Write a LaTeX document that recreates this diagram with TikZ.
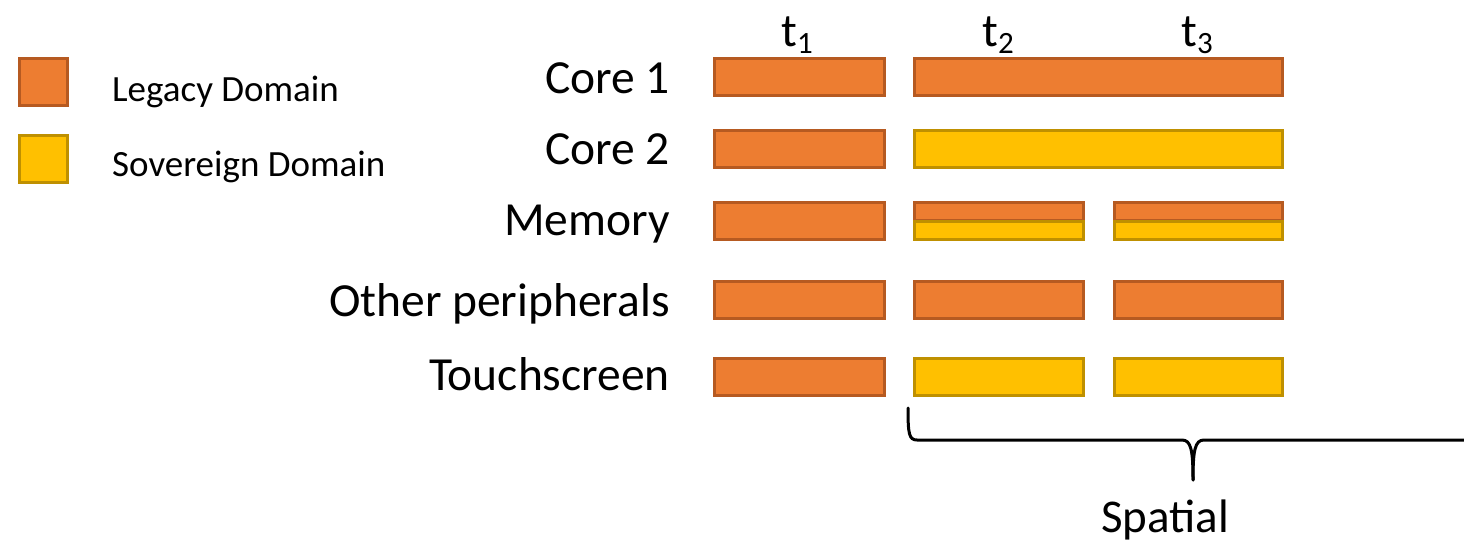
\documentclass[tikz,border=0pt]{standalone}
\usepackage{fontspec}
\setmainfont{Carlito}
\definecolor{legacyfill}{HTML}{ED7D31}
\definecolor{legacyline}{HTML}{B65A21}
\definecolor{sovfill}{HTML}{FFC000}
\definecolor{sovline}{HTML}{BF9000}
\newcommand{\tsub}[1]{t\raisebox{-7pt}{\fontsize{31}{31}\selectfont #1}}
\tikzset{
  legacybox/.style={draw=legacyline, fill=legacyfill, line width=2.5pt, inner sep=0pt, anchor=north west},
  sovbox/.style={draw=sovline, fill=sovfill, line width=2.5pt, inner sep=0pt, anchor=north west},
  rowlabel/.style={font=\fontsize{47.5}{50}\selectfont, anchor=base east, inner sep=0pt},
  legendtext/.style={font=\fontsize{37}{40}\selectfont, anchor=base west, inner sep=0pt},
  timelabel/.style={font=\fontsize{47}{50}\selectfont, anchor=base, inner sep=0pt},
  brace/.style={draw=black, line width=3pt, line cap=round, line join=round}
}
\begin{document}
\begin{tikzpicture}[x=1pt, y=-1pt]
\useasboundingbox (0,0) rectangle (1464,544);

% legend
\node[legacybox, minimum width=48pt, minimum height=47pt] (keylegacy) at (18,57) {};
\node[sovbox, minimum width=48pt, minimum height=47pt] (keysov) at (18,134) {};
\node[legendtext] (keylegacytext) at (112,101) {Legacy Domain};
\node[legendtext] (keysovtext) at (112,176) {Sovereign Domain};

% time slots
\node[timelabel] (tone) at (797,46) {\tsub{1}};
\node[timelabel] (ttwo) at (998,46) {\tsub{2}};
\node[timelabel] (tthree) at (1197,46) {\tsub{3}};

% row labels
\node[rowlabel] (lcoreone) at (670,93) {Core 1};
\node[rowlabel] (lcoretwo) at (670,164) {Core 2};
\node[rowlabel] (lmem) at (670,235) {Memory};
\node[rowlabel] (lother) at (670,316) {Other peripherals};
\node[rowlabel] (ltouch) at (670,390) {Touchscreen};

% Core 1
\node[legacybox, minimum width=170pt, minimum height=37pt] (coreonea) at (713,57) {};
\node[legacybox, minimum width=368pt, minimum height=37pt] (coreoneb) at (913,57) {};
% Core 2
\node[legacybox, minimum width=170pt, minimum height=37pt] (coretwoa) at (713,129) {};
\node[sovbox, minimum width=368pt, minimum height=37pt] (coretwob) at (913,129) {};
% Memory
\node[legacybox, minimum width=170pt, minimum height=37pt] (mema) at (713,201) {};
\node[legacybox, minimum width=169pt, minimum height=18pt] (membtop) at (913,201) {};
\node[sovbox, minimum width=169pt, minimum height=18pt] (membbot) at (913,220) {};
\node[legacybox, minimum width=168pt, minimum height=18pt] (memctop) at (1113,201) {};
\node[sovbox, minimum width=168pt, minimum height=18pt] (memcbot) at (1113,220) {};
% Other peripherals
\node[legacybox, minimum width=170pt, minimum height=37pt] (othera) at (713,280) {};
\node[legacybox, minimum width=169pt, minimum height=37pt] (otherb) at (913,280) {};
\node[legacybox, minimum width=168pt, minimum height=37pt] (otherc) at (1113,280) {};
% Touchscreen
\node[legacybox, minimum width=170pt, minimum height=37pt] (toucha) at (713,357) {};
\node[sovbox, minimum width=169pt, minimum height=37pt] (touchb) at (913,357) {};
\node[sovbox, minimum width=168pt, minimum height=37pt] (touchc) at (1113,357) {};

% brace under the spatial partition
\begin{scope}
\clip (0,0) rectangle (1464,544);
\draw[brace] (908,408) .. controls (908,434) and (909,440) .. (917,440)
  -- (1182,440) .. controls (1191,440) and (1193,450) .. (1193,480);
\draw[brace] (1193,480) .. controls (1193,450) and (1195,440) .. (1204,440)
  -- (1470,440) .. controls (1478,440) and (1479,434) .. (1479,408);
\end{scope}
\node[font=\fontsize{47}{50}\selectfont, anchor=base, inner sep=0pt] (spatial) at (1165,532) {Spatial};
\end{tikzpicture}
\end{document}
